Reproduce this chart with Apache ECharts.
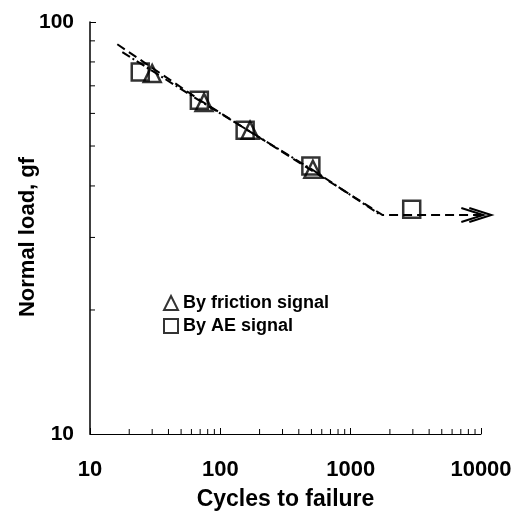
<!DOCTYPE html>
<html>
<head>
<meta charset="utf-8">
<script src="https://cdn.jsdelivr.net/npm/echarts@6/dist/echarts.min.js"></script>
<style>html,body{margin:0;padding:0;background:#fff;}#c{width:523px;height:512px;}</style>
</head>
<body>
<div id="c"></div>
<script>
// Data
var aeSignal = [[24.3, 75.6], [69, 64.6], [155, 54.6], [495, 44.7], [2940, 35.1]];
var frictionSignal = [[30, 75], [75, 63.8], [169, 54.6], [513, 43.9]];
var fitLine1 = [[16.2, 88.3], [72, 64.2], [1760, 34], [12000, 34]];
var fitLine2 = [[17.7, 84.5], [74, 63.6], [520, 43.6], [1650, 34.2]];
var arrowTip = [[12000, 34]];
var xMinorTicks = [20, 30, 40, 50, 60, 70, 80, 90, 200, 300, 400, 500, 600, 700, 800, 900, 2000, 3000, 4000, 5000, 6000, 7000, 8000, 9000];
var yMinorTicks = [20, 30, 40, 50, 60, 70, 80, 90];
var xRange = [10, 10000];
var yRange = [10, 100];

var FONT = '"Liberation Sans", Arial, sans-serif';
var chart = echarts.init(document.getElementById('c'), null, {renderer: 'canvas'});

function tickSeries(vals, dir) {
  return {
    type: 'custom',
    silent: true,
    clip: false,
    data: vals.map(function (v) { return dir === 'x' ? [v, yRange[0]] : [xRange[0], v]; }),
    renderItem: function (params, api) {
      var p = api.coord([api.value(0), api.value(1)]);
      var shape = dir === 'x'
        ? {x1: p[0], y1: p[1], x2: p[0], y2: p[1] - 5}
        : {x1: p[0], y1: p[1], x2: p[0] + 5, y2: p[1]};
      return {type: 'line', shape: shape, style: {stroke: '#000', lineWidth: 1}};
    }
  };
}

function plain(v) { return String(Math.round(v)); }

chart.setOption({
  backgroundColor: '#fff',
  animation: false,
  grid: {left: 90, right: 42, top: 22, bottom: 78, containLabel: false, outerBoundsMode: 'none'},
  legend: {
    orient: 'vertical',
    left: 158, top: 289,
    itemWidth: 14, itemHeight: 14, itemGap: 5,
    data: ['By friction signal', 'By AE signal'],
    textStyle: {fontFamily: FONT, fontSize: 18, color: '#000', fontWeight: 'bold'}
  },
  xAxis: {
    type: 'log', logBase: 10, min: xRange[0], max: xRange[1],
    name: 'Cycles to failure', nameLocation: 'middle', nameGap: 54, nameMoveOverlap: false,
    nameTextStyle: {fontFamily: FONT, fontSize: 23, color: '#000', fontWeight: 'bold'},
    axisLine: {lineStyle: {color: '#000', width: 1}},
    axisTick: {inside: true, length: 6, lineStyle: {color: '#000'}},
    axisLabel: {fontFamily: FONT, fontSize: 22, color: '#000', fontWeight: 'bold', margin: 25, formatter: plain},
    splitLine: {show: false}
  },
  yAxis: {
    type: 'log', logBase: 10, min: yRange[0], max: yRange[1],
    name: 'Normal load, gf', nameLocation: 'middle', nameGap: 51, nameMoveOverlap: false,
    nameTextStyle: {fontFamily: FONT, fontSize: 22, color: '#000', fontWeight: 'bold', padding: [0, 18, 0, 0]},
    axisLine: {lineStyle: {color: '#000', width: 1.5}},
    axisTick: {inside: true, length: 6, lineStyle: {color: '#000'}},
    axisLabel: {fontFamily: FONT, fontSize: 21, color: '#000', fontWeight: 'bold', margin: 16, formatter: plain},
    splitLine: {show: false}
  },
  series: [
    {
      name: 'fit1', type: 'line', data: fitLine1, showSymbol: false, clip: false, silent: true,
      lineStyle: {color: '#000', width: 2, type: [9, 5]}
    },
    {
      name: 'fit2', type: 'line', data: fitLine2, showSymbol: false, clip: false, silent: true,
      lineStyle: {color: '#000', width: 2, type: [9, 3, 2, 3]}
    },
    {
      name: 'By friction signal', type: 'scatter', data: frictionSignal,
      symbol: 'triangle', symbolSize: 17,
      itemStyle: {color: 'rgba(255,255,255,0)', borderColor: '#000', borderWidth: 2.5}
    },
    {
      name: 'By AE signal', type: 'scatter', data: aeSignal,
      symbol: 'rect', symbolSize: 17,
      itemStyle: {color: 'rgba(255,255,255,0)', borderColor: '#000', borderWidth: 2.5}
    },
    {
      type: 'custom', silent: true, clip: false, data: arrowTip,
      renderItem: function (params, api) {
        var p = api.coord([api.value(0), api.value(1)]);
        var children = [0, 8].map(function (off) {
          var tx = p[0] - off;
          return {type: 'polyline', shape: {points: [[tx - 22, p[1] - 7], [tx, p[1]], [tx - 22, p[1] + 7]]},
            style: {stroke: '#000', lineWidth: 2, fill: null}};
        });
        return {type: 'group', children: children};
      }
    },
    tickSeries(xMinorTicks, 'x'),
    tickSeries(yMinorTicks, 'y')
  ]
});
</script>
</body>
</html>
